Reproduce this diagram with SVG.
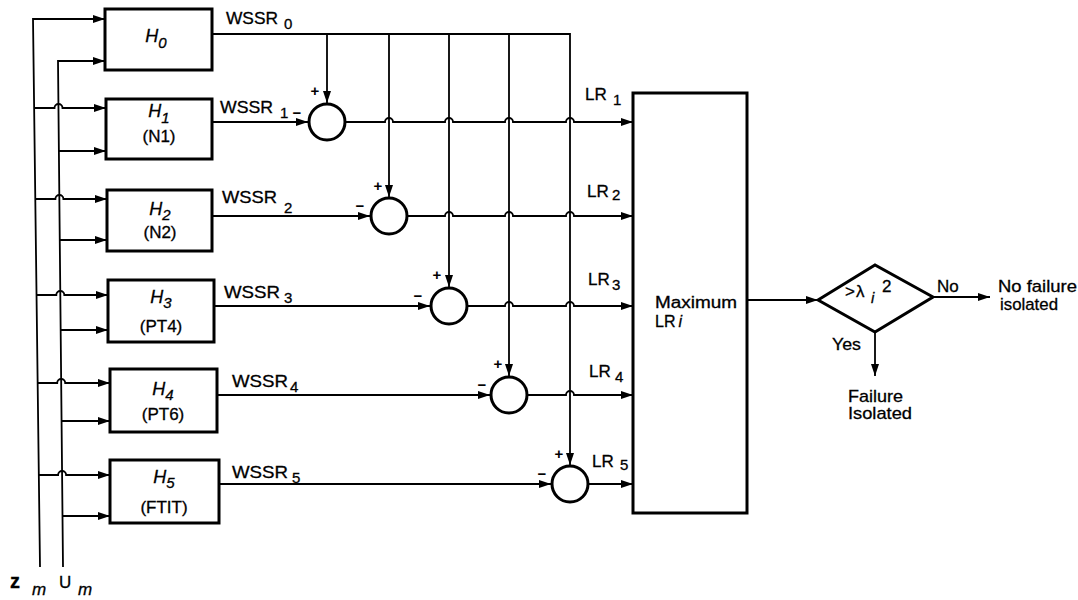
<svg xmlns="http://www.w3.org/2000/svg" width="1078" height="600" viewBox="0 0 1078 600">
<style>
.ln{fill:none;stroke:#000;stroke-width:1.8}
.bx{fill:#fff;stroke:#000;stroke-width:3}
.t{font-family:"Liberation Sans",Arial,sans-serif;font-size:17px;fill:#000;stroke:#000;stroke-width:0.3}
.s{font-size:15px}
.it{font-style:italic}
.hl{font-family:"Liberation Sans",Arial,sans-serif;font-size:18px;fill:#000;stroke:#000;stroke-width:0.3;text-anchor:middle}
.hp{font-size:17px}
.pm{font-family:"Liberation Sans",Arial,sans-serif;font-size:15px;font-weight:bold;fill:#000;text-anchor:middle}
</style>
<defs>
<marker id="ar" markerUnits="userSpaceOnUse" markerWidth="12" markerHeight="8" refX="12" refY="4" orient="auto">
<path d="M0,0 L12,4 L0,8 z" fill="#000"/>
</marker>
</defs>
<g id="connectors">
<path class="ln" d="M40,567 L33,19 H105" marker-end="url(#ar)"/>
<path class="ln" d="M34,108 H54.5 a4,4 0 0 1 8,0 H106" marker-end="url(#ar)"/>
<path class="ln" d="M35,199 H55.4 a4,4 0 0 1 8,0 H107" marker-end="url(#ar)"/>
<path class="ln" d="M36.5,295 H56.3 a4,4 0 0 1 8,0 H108" marker-end="url(#ar)"/>
<path class="ln" d="M37.6,383 H57.2 a4,4 0 0 1 8,0 H110" marker-end="url(#ar)"/>
<path class="ln" d="M38.8,475 H58.1 a4,4 0 0 1 8,0 H110" marker-end="url(#ar)"/>
<path class="ln" d="M63,567 L58,61 H105" marker-end="url(#ar)"/>
<path class="ln" d="M58.9,151 H106" marker-end="url(#ar)"/>
<path class="ln" d="M59.8,240 H107" marker-end="url(#ar)"/>
<path class="ln" d="M60.7,330 H108" marker-end="url(#ar)"/>
<path class="ln" d="M61.6,421 H110" marker-end="url(#ar)"/>
<path class="ln" d="M62.5,516 H110" marker-end="url(#ar)"/>
<path class="ln" d="M212,34 H570 V465" marker-end="url(#ar)"/>
<path class="ln" d="M327,34 V103" marker-end="url(#ar)"/>
<path class="ln" d="M389,34 V197" marker-end="url(#ar)"/>
<path class="ln" d="M449,34 V287" marker-end="url(#ar)"/>
<path class="ln" d="M509,34 V376" marker-end="url(#ar)"/>
<path class="ln" d="M212,122 H308" marker-end="url(#ar)"/>
<path class="ln" d="M212,216 H370" marker-end="url(#ar)"/>
<path class="ln" d="M214,306 H430" marker-end="url(#ar)"/>
<path class="ln" d="M217,395 H490" marker-end="url(#ar)"/>
<path class="ln" d="M219,484 H551" marker-end="url(#ar)"/>
<path class="ln" d="M345,122 H385 a4,4 0 0 1 8,0 H445 a4,4 0 0 1 8,0 H505 a4,4 0 0 1 8,0 H566 a4,4 0 0 1 8,0 H633" marker-end="url(#ar)"/>
<path class="ln" d="M407,216 H445 a4,4 0 0 1 8,0 H505 a4,4 0 0 1 8,0 H566 a4,4 0 0 1 8,0 H633" marker-end="url(#ar)"/>
<path class="ln" d="M467,306 H505 a4,4 0 0 1 8,0 H566 a4,4 0 0 1 8,0 H633" marker-end="url(#ar)"/>
<path class="ln" d="M527,395 H566 a4,4 0 0 1 8,0 H633" marker-end="url(#ar)"/>
<path class="ln" d="M588,484 H633" marker-end="url(#ar)"/>
<path class="ln" d="M747,300 H818" marker-end="url(#ar)"/>
<path class="ln" d="M933,297 H990" marker-end="url(#ar)"/>
<path class="ln" d="M875,332 V376" marker-end="url(#ar)"/>
</g>
<g id="H0"><rect class="bx" x="105" y="9" width="107" height="61"/><text class="hl it" x="156" y="42">H<tspan class="s" dy="6">0</tspan></text></g>
<g id="H1"><rect class="bx" x="106" y="99" width="106" height="60"/><text class="hl it" x="159" y="117">H<tspan class="s" dy="6">1</tspan></text><text class="hl hp" x="159" y="142">(N1)</text></g>
<g id="H2"><rect class="bx" x="107" y="190" width="105" height="61"/><text class="hl it" x="160" y="215">H<tspan class="s" dy="5">2</tspan></text><text class="hl hp" x="160" y="238">(N2)</text></g>
<g id="H3"><rect class="bx" x="108" y="280" width="106" height="62"/><text class="hl it" x="161" y="303">H<tspan class="s" dy="5">3</tspan></text><text class="hl hp" x="161" y="332">(PT4)</text></g>
<g id="H4"><rect class="bx" x="110" y="369" width="107" height="63"/><text class="hl it" x="163" y="395">H<tspan class="s" dy="5">4</tspan></text><text class="hl hp" x="163" y="420">(PT6)</text></g>
<g id="H5"><rect class="bx" x="110" y="460" width="109" height="63"/><text class="hl it" x="164" y="483">H<tspan class="s" dy="5">5</tspan></text><text class="hl hp" x="164" y="513">(FTIT)</text></g>
<g id="S1"><circle class="bx" cx="327" cy="122" r="18"/></g>
<g id="S2"><circle class="bx" cx="389" cy="216" r="18"/></g>
<g id="S3"><circle class="bx" cx="449" cy="306" r="18"/></g>
<g id="S4"><circle class="bx" cx="509" cy="395" r="18"/></g>
<g id="S5"><circle class="bx" cx="570" cy="484" r="18"/></g>
<g id="MaxLR"><rect class="bx" x="633" y="93" width="114" height="420"/>
<text class="t" style="font-size:16px" x="655" y="308" textLength="82" lengthAdjust="spacingAndGlyphs">Maximum</text>
<text class="t" style="font-size:16px" x="655" y="327">LR<tspan class="it" dx="3">i</tspan></text></g>
<g id="Decision"><polygon class="bx" points="818,300 875,265 933,297 875,332"/>
<text class="t" x="845" y="297">&gt;</text>
<text class="t" x="856" y="297">λ</text>
<text class="t it s" x="871" y="303">i</text>
<text class="t" x="882" y="292">2</text></g>
<g id="labels">
<text class="t" x="226" y="24" textLength="52" lengthAdjust="spacingAndGlyphs">WSSR</text><text class="t s" x="284" y="29">0</text>
<text class="t" x="220" y="113" textLength="53" lengthAdjust="spacingAndGlyphs">WSSR</text><text class="t s" x="280" y="118">1</text>
<text class="pm" x="297" y="118">−</text>
<text class="t" x="222" y="203" textLength="55" lengthAdjust="spacingAndGlyphs">WSSR</text><text class="t s" x="284" y="213">2</text>
<text class="t" x="224" y="298" textLength="56" lengthAdjust="spacingAndGlyphs">WSSR</text><text class="t s" x="284" y="303">3</text>
<text class="t" x="232" y="387" textLength="56" lengthAdjust="spacingAndGlyphs">WSSR</text><text class="t s" x="290" y="392">4</text>
<text class="t" x="232" y="478" textLength="56" lengthAdjust="spacingAndGlyphs">WSSR</text><text class="t s" x="292" y="483">5</text>
<text class="pm" x="315" y="96">+</text>
<text class="pm" x="378" y="191">+</text><text class="pm" x="360" y="211">−</text>
<text class="pm" x="437" y="280">+</text><text class="pm" x="418" y="301">−</text>
<text class="pm" x="498" y="369">+</text><text class="pm" x="482" y="390">−</text>
<text class="pm" x="559" y="459">+</text><text class="pm" x="542" y="479">−</text>
<text class="t" x="585" y="100">LR</text><text class="t s" x="613" y="105">1</text>
<text class="t" x="587" y="197">LR</text><text class="t s" x="612" y="200">2</text>
<text class="t" x="588" y="285">LR</text><text class="t s" x="612" y="290">3</text>
<text class="t" x="589" y="377">LR</text><text class="t s" x="615" y="382">4</text>
<text class="t" x="592" y="467">LR</text><text class="t s" x="620" y="470">5</text>
<text class="t" x="937" y="292">No</text>
<text class="t" x="998" y="292" textLength="79" lengthAdjust="spacingAndGlyphs">No failure</text>
<text class="t" x="1000" y="310" textLength="58" lengthAdjust="spacingAndGlyphs">isolated</text>
<text class="t" x="832" y="350" textLength="29" lengthAdjust="spacingAndGlyphs">Yes</text>
<text class="t" x="848" y="402" textLength="55" lengthAdjust="spacingAndGlyphs">Failure</text>
<text class="t" x="848" y="419" textLength="64" lengthAdjust="spacingAndGlyphs">Isolated</text>
<text class="t" x="10" y="588" style="font-size:20px;font-weight:bold">z</text>
<text class="t it" x="32" y="595">m</text>
<text class="t" x="59" y="588">U</text>
<text class="t it" x="78" y="595">m</text>
</g>
</svg>
